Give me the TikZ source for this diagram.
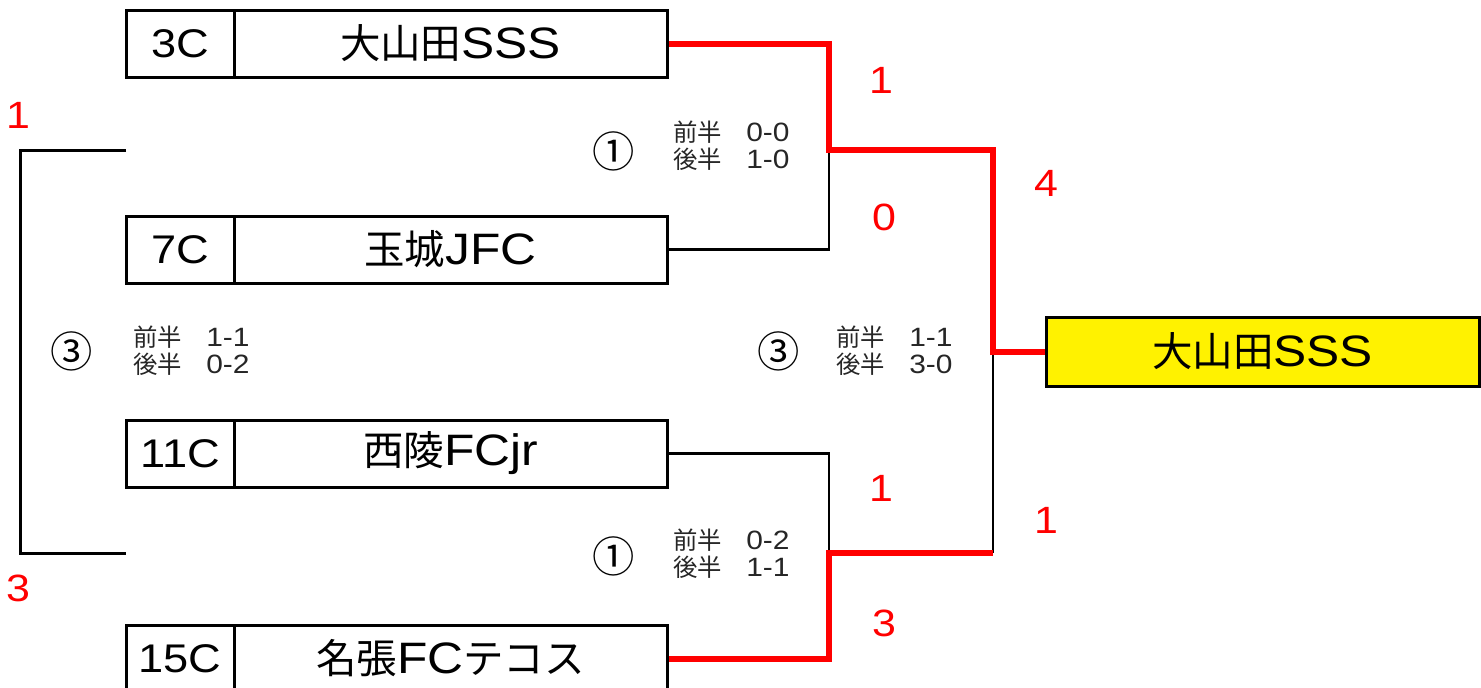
\documentclass[tikz,border=0pt]{standalone}
\usepackage{fontspec}
\setmainfont{Liberation Sans}[FakeStretch=1.13]
\newfontfamily\jp{Noto Sans CJK JP}[Scale=0.92]
\begin{document}
\begin{tikzpicture}[x=1pt,y=-1pt,
  cell/.style={draw=black,line width=3pt,rectangle,inner sep=0pt,minimum height=67pt},
  codecell/.style={cell,minimum width=108pt,font=\fontsize{40}{44}\selectfont},
  namecell/.style={cell,minimum width=433pt,font=\fontsize{44}{50}\selectfont},
  win/.style={draw=red,line width=6pt},
  lose/.style={draw=black,line width=2.5pt},
  redscore/.style={text=red,font=\fontsize{38}{42}\selectfont,inner sep=0pt},
  half/.style={font=\fontsize{26.5}{27}\selectfont,align=left,anchor=west,inner sep=0pt,text=black!85},
  circ/.style={font=\jp\fontsize{46}{50}\selectfont,inner sep=0pt}]
\useasboundingbox (0,0) rectangle (1481,688);
\clip (0,0) rectangle (1481,688);
\fill[white] (0,0) rectangle (1481,688);
% team boxes
\node[codecell] (c1) at (180,43.5) {3C};
\node[namecell] (n1) at (450.5,43.5) {{\jp 大山田}SSS};
\node[codecell] (c2) at (180,249.5) {7C};
\node[namecell] (n2) at (450.5,249.5) {{\jp 玉城}JFC};
\node[codecell] (c3) at (180,453.5) {11C};
\node[namecell] (n3) at (450.5,453.5) {{\jp 西陵}FCjr};
\node[codecell] (c4) at (180,658.5) {15C};
\node[namecell] (n4) at (450.5,658.5) {{\jp 名張}FC{\jp テコス}};
% final box
\node[draw=black,line width=3pt,fill=yellow,minimum width=433pt,minimum height=69pt,inner sep=0pt,font=\fontsize{44}{50}\selectfont] (fin) at (1262.5,351.5) {{\jp 大山田}SSS};
% junction coordinates
\coordinate (m1) at (829,150);
\coordinate (m2) at (829,553);
\coordinate (f) at (993,351.5);
\coordinate (f2) at (993,553);
\coordinate (l1) at (126,150);
\coordinate (l2) at (126,553);
% connectors
\draw[lose] (n2.east) -| (m1);
\draw[lose] (n3.east) -| (m2);
\draw[lose] (f2) -- (f);
\draw[win] (n1.east) -| (m1) -| (f) -- (fin.west);
\draw[win] (n4.east) -| (m2) -- (f2);
\draw[line width=3pt,line join=miter] (l1) -- (20,150) -- (20,553) -- (l2);
% scores
\node[redscore] (s1) at (18,115) {1};
\node[redscore] (s2) at (18,588) {3};
\node[redscore] (s3) at (881,80) {1};
\node[redscore] (s4) at (884,217) {0};
\node[redscore] (s5) at (881,488) {1};
\node[redscore] (s6) at (884,623) {3};
\node[redscore] (s7) at (1046,183) {4};
\node[redscore] (s8) at (1046,520) {1};
% match labels
\node[circ] (k1) at (614,151) {①};
\node[circ] (k2) at (614,556) {①};
\node[circ] (k3) at (72,351) {③};
\node[circ] (k4) at (779,351) {③};
\node[half] (h1) at (673,146) {{\jp 前半　}0-0\\{\jp 後半　}1-0};
\node[half] (h2) at (673,554) {{\jp 前半　}0-2\\{\jp 後半　}1-1};
\node[half] (h3) at (133,351) {{\jp 前半　}1-1\\{\jp 後半　}0-2};
\node[half] (h4) at (836,351) {{\jp 前半　}1-1\\{\jp 後半　}3-0};
\end{tikzpicture}
\end{document}
